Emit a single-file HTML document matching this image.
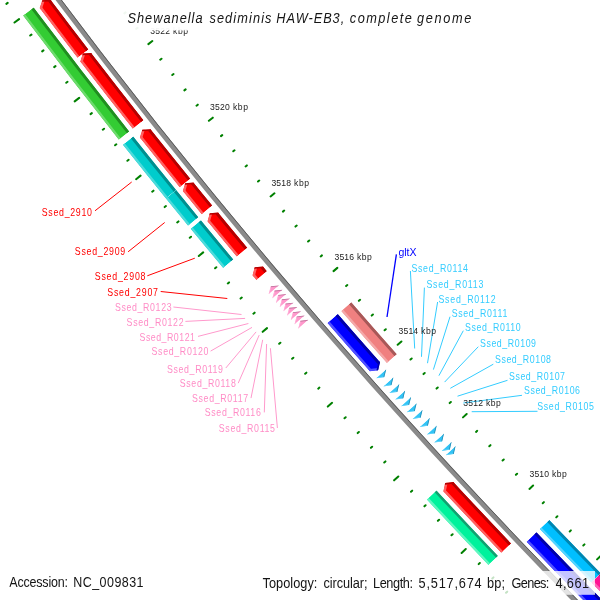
<!DOCTYPE html>
<html><head><meta charset="utf-8"><style>html,body{margin:0;padding:0;background:#fff;width:600px;height:600px;overflow:hidden}svg{display:block} text{will-change:transform}</style></head>
<body><svg width="600" height="600" viewBox="0 0 600 600">
<defs><clipPath id="c1"><path d="M 77.60 57.86 A 6130.80 6130.80 0 0 1 39.69 7.96 L 42.31 0.13 L 50.56 -0.21 A 6117.20 6117.20 0 0 0 88.39 49.58 Z"/></clipPath><clipPath id="c2"><path d="M 132.82 128.69 A 6130.80 6130.80 0 0 1 80.31 61.39 L 82.84 53.53 L 91.09 53.09 A 6117.20 6117.20 0 0 0 143.48 120.25 Z"/></clipPath><clipPath id="c3"><path d="M 179.72 187.22 A 6130.80 6130.80 0 0 1 139.87 137.58 L 142.28 129.69 L 150.52 129.13 A 6117.20 6117.20 0 0 0 190.28 178.65 Z"/></clipPath><clipPath id="c4"><path d="M 201.72 214.17 A 6130.80 6130.80 0 0 1 182.83 191.05 L 185.16 183.13 L 193.38 182.47 A 6117.20 6117.20 0 0 0 212.23 205.54 Z"/></clipPath><clipPath id="c5"><path d="M 236.82 256.54 A 6130.80 6130.80 0 0 1 207.52 221.22 L 209.79 213.28 L 218.01 212.58 A 6117.20 6117.20 0 0 0 247.25 247.81 Z"/></clipPath><clipPath id="c6"><path d="M 256.50 279.96 A 6130.80 6130.80 0 0 1 252.52 275.25 L 254.71 267.28 L 262.92 266.48 A 6117.20 6117.20 0 0 0 266.89 271.18 Z"/></clipPath><clipPath id="c7"><path d="M 501.30 552.82 A 6130.80 6130.80 0 0 1 443.36 491.14 L 445.16 483.09 L 453.33 481.90 A 6117.20 6117.20 0 0 0 511.15 543.44 Z"/></clipPath><clipPath id="c8"><path d="M 118.86 139.74 A 6148.60 6148.60 0 0 1 23.08 15.50 L 33.64 7.57 A 6135.40 6135.40 0 0 0 129.21 131.55 Z"/></clipPath><clipPath id="c9"><path d="M 165.90 198.44 A 6148.60 6148.60 0 0 1 122.85 144.78 L 133.19 136.58 A 6135.40 6135.40 0 0 0 176.15 190.12 Z"/></clipPath><clipPath id="c10"><path d="M 188.12 225.66 A 6148.60 6148.60 0 0 1 165.90 198.44 L 176.15 190.12 A 6135.40 6135.40 0 0 0 198.32 217.28 Z"/></clipPath><clipPath id="c11"><path d="M 223.16 267.96 A 6148.60 6148.60 0 0 1 190.63 228.71 L 200.83 220.33 A 6135.40 6135.40 0 0 0 233.29 259.49 Z"/></clipPath><clipPath id="c12"><path d="M 488.42 565.09 A 6148.60 6148.60 0 0 1 426.77 499.43 L 436.46 490.46 A 6135.40 6135.40 0 0 0 497.97 555.99 Z"/></clipPath><clipPath id="c13"><path d="M 268.62 294.27 L 270.77 286.29 L 278.99 285.46 Z"/></clipPath><clipPath id="c14"><path d="M 272.30 298.59 L 274.44 290.61 L 282.65 289.77 Z"/></clipPath><clipPath id="c15"><path d="M 275.98 302.91 L 278.12 294.93 L 286.33 294.08 Z"/></clipPath><clipPath id="c16"><path d="M 279.66 307.22 L 281.79 299.24 L 290.00 298.39 Z"/></clipPath><clipPath id="c17"><path d="M 283.35 311.54 L 285.47 303.55 L 293.68 302.69 Z"/></clipPath><clipPath id="c18"><path d="M 287.05 315.84 L 289.16 307.86 L 297.37 306.99 Z"/></clipPath><clipPath id="c19"><path d="M 290.74 320.15 L 292.85 312.16 L 301.06 311.28 Z"/></clipPath><clipPath id="c20"><path d="M 294.44 324.45 L 296.54 316.46 L 304.75 315.58 Z"/></clipPath><clipPath id="c21"><path d="M 298.15 328.75 L 300.24 320.76 L 308.45 319.87 Z"/></clipPath><clipPath id="c22"><path d="M 369.90 371.33 A 6104.80 6104.80 0 0 1 327.48 322.92 L 337.75 314.01 A 6091.20 6091.20 0 0 0 380.08 362.31 L 378.08 370.31 Z"/></clipPath><clipPath id="c23"><path d="M 604.02 621.22 A 6104.80 6104.80 0 0 1 526.57 541.64 L 536.41 532.24 A 6091.20 6091.20 0 0 0 613.68 611.65 Z"/></clipPath><clipPath id="c24"><path d="M 386.93 363.11 A 6086.60 6086.60 0 0 1 341.23 310.99 L 351.20 302.35 A 6073.40 6073.40 0 0 0 396.81 354.35 Z"/></clipPath><clipPath id="c25"><path d="M 591.33 582.41 A 6086.60 6086.60 0 0 1 539.73 529.06 L 549.27 519.94 A 6073.40 6073.40 0 0 0 600.76 573.17 Z"/></clipPath><clipPath id="c26"><path d="M 616.94 608.41 A 6086.60 6086.60 0 0 1 591.33 582.41 L 600.76 573.17 A 6073.40 6073.40 0 0 0 626.32 599.12 Z"/></clipPath><clipPath id="c27"><path d="M 376.09 378.31 L 384.27 377.28 L 386.26 369.28 Z"/></clipPath><clipPath id="c28"><path d="M 383.28 386.39 L 391.46 385.34 L 393.43 377.34 Z"/></clipPath><clipPath id="c29"><path d="M 389.17 392.99 L 397.35 391.93 L 399.31 383.92 Z"/></clipPath><clipPath id="c30"><path d="M 395.07 399.58 L 403.24 398.51 L 405.19 390.50 Z"/></clipPath><clipPath id="c31"><path d="M 400.98 406.16 L 409.15 405.07 L 411.09 397.06 Z"/></clipPath><clipPath id="c32"><path d="M 406.57 412.36 L 414.74 411.27 L 416.67 403.25 Z"/></clipPath><clipPath id="c33"><path d="M 412.49 418.93 L 420.67 417.82 L 422.58 409.80 Z"/></clipPath><clipPath id="c34"><path d="M 419.75 426.94 L 427.92 425.82 L 429.82 417.80 Z"/></clipPath><clipPath id="c35"><path d="M 426.69 434.57 L 434.86 433.44 L 436.75 425.42 Z"/></clipPath><clipPath id="c36"><path d="M 433.98 442.56 L 442.14 441.41 L 444.02 433.38 Z"/></clipPath><clipPath id="c37"><path d="M 441.61 450.89 L 449.77 449.73 L 451.63 441.70 Z"/></clipPath><clipPath id="c38"><path d="M 445.60 455.24 L 453.76 454.07 L 455.61 446.03 Z"/></clipPath></defs>
<rect width="600" height="600" fill="#ffffff"/>
<path d="M -117.82 -246.98 A 6110.80 6110.80 0 0 0 848.86 863.04" fill="none" stroke="#8a8a8a" stroke-width="5.0"/>
<path d="M -116.16 -248.10 A 6108.80 6108.80 0 0 0 850.20 861.55" fill="none" stroke="#5a5a5a" stroke-width="1.0"/>
<g clip-path="url(#c1)"><path d="M 77.60 57.86 A 6130.80 6130.80 0 0 1 39.69 7.96 L 42.31 0.13 L 50.56 -0.21 A 6117.20 6117.20 0 0 0 88.39 49.58 Z" fill="#ff0000"/><path d="M 77.60 57.86 A 6130.80 6130.80 0 0 1 39.69 7.96" fill="none" stroke="#ff6262" stroke-width="4.8"/><path d="M 50.56 -0.21 A 6117.20 6117.20 0 0 0 88.39 49.58" fill="none" stroke="#b40000" stroke-width="5.8"/><path d="M 39.69 7.96 L 42.31 0.13" fill="none" stroke="#ff6262" stroke-width="4.8" stroke-linecap="round"/><path d="M 42.31 0.13 L 50.56 -0.21" fill="none" stroke="#b40000" stroke-width="3.2" stroke-linecap="round"/></g>
<g clip-path="url(#c2)"><path d="M 132.82 128.69 A 6130.80 6130.80 0 0 1 80.31 61.39 L 82.84 53.53 L 91.09 53.09 A 6117.20 6117.20 0 0 0 143.48 120.25 Z" fill="#ff0000"/><path d="M 132.82 128.69 A 6130.80 6130.80 0 0 1 80.31 61.39" fill="none" stroke="#ff6262" stroke-width="4.8"/><path d="M 91.09 53.09 A 6117.20 6117.20 0 0 0 143.48 120.25" fill="none" stroke="#b40000" stroke-width="5.8"/><path d="M 80.31 61.39 L 82.84 53.53" fill="none" stroke="#ff6262" stroke-width="4.8" stroke-linecap="round"/><path d="M 82.84 53.53 L 91.09 53.09" fill="none" stroke="#b40000" stroke-width="3.2" stroke-linecap="round"/></g>
<g clip-path="url(#c3)"><path d="M 179.72 187.22 A 6130.80 6130.80 0 0 1 139.87 137.58 L 142.28 129.69 L 150.52 129.13 A 6117.20 6117.20 0 0 0 190.28 178.65 Z" fill="#ff0000"/><path d="M 179.72 187.22 A 6130.80 6130.80 0 0 1 139.87 137.58" fill="none" stroke="#ff6262" stroke-width="4.8"/><path d="M 150.52 129.13 A 6117.20 6117.20 0 0 0 190.28 178.65" fill="none" stroke="#b40000" stroke-width="5.8"/><path d="M 139.87 137.58 L 142.28 129.69" fill="none" stroke="#ff6262" stroke-width="4.8" stroke-linecap="round"/><path d="M 142.28 129.69 L 150.52 129.13" fill="none" stroke="#b40000" stroke-width="3.2" stroke-linecap="round"/></g>
<g clip-path="url(#c4)"><path d="M 201.72 214.17 A 6130.80 6130.80 0 0 1 182.83 191.05 L 185.16 183.13 L 193.38 182.47 A 6117.20 6117.20 0 0 0 212.23 205.54 Z" fill="#ff0000"/><path d="M 201.72 214.17 A 6130.80 6130.80 0 0 1 182.83 191.05" fill="none" stroke="#ff6262" stroke-width="4.8"/><path d="M 193.38 182.47 A 6117.20 6117.20 0 0 0 212.23 205.54" fill="none" stroke="#b40000" stroke-width="5.8"/><path d="M 182.83 191.05 L 185.16 183.13" fill="none" stroke="#ff6262" stroke-width="4.8" stroke-linecap="round"/><path d="M 185.16 183.13 L 193.38 182.47" fill="none" stroke="#b40000" stroke-width="3.2" stroke-linecap="round"/></g>
<g clip-path="url(#c5)"><path d="M 236.82 256.54 A 6130.80 6130.80 0 0 1 207.52 221.22 L 209.79 213.28 L 218.01 212.58 A 6117.20 6117.20 0 0 0 247.25 247.81 Z" fill="#ff0000"/><path d="M 236.82 256.54 A 6130.80 6130.80 0 0 1 207.52 221.22" fill="none" stroke="#ff6262" stroke-width="4.8"/><path d="M 218.01 212.58 A 6117.20 6117.20 0 0 0 247.25 247.81" fill="none" stroke="#b40000" stroke-width="5.8"/><path d="M 207.52 221.22 L 209.79 213.28" fill="none" stroke="#ff6262" stroke-width="4.8" stroke-linecap="round"/><path d="M 209.79 213.28 L 218.01 212.58" fill="none" stroke="#b40000" stroke-width="3.2" stroke-linecap="round"/></g>
<g clip-path="url(#c6)"><path d="M 256.50 279.96 A 6130.80 6130.80 0 0 1 252.52 275.25 L 254.71 267.28 L 262.92 266.48 A 6117.20 6117.20 0 0 0 266.89 271.18 Z" fill="#ff0000"/><path d="M 256.50 279.96 A 6130.80 6130.80 0 0 1 252.52 275.25" fill="none" stroke="#ff6262" stroke-width="4.8"/><path d="M 262.92 266.48 A 6117.20 6117.20 0 0 0 266.89 271.18" fill="none" stroke="#b40000" stroke-width="5.8"/><path d="M 252.52 275.25 L 254.71 267.28" fill="none" stroke="#ff6262" stroke-width="4.8" stroke-linecap="round"/><path d="M 254.71 267.28 L 262.92 266.48" fill="none" stroke="#b40000" stroke-width="3.2" stroke-linecap="round"/></g>
<g clip-path="url(#c7)"><path d="M 501.30 552.82 A 6130.80 6130.80 0 0 1 443.36 491.14 L 445.16 483.09 L 453.33 481.90 A 6117.20 6117.20 0 0 0 511.15 543.44 Z" fill="#ff0000"/><path d="M 501.30 552.82 A 6130.80 6130.80 0 0 1 443.36 491.14" fill="none" stroke="#ff6262" stroke-width="4.8"/><path d="M 453.33 481.90 A 6117.20 6117.20 0 0 0 511.15 543.44" fill="none" stroke="#b40000" stroke-width="5.8"/><path d="M 443.36 491.14 L 445.16 483.09" fill="none" stroke="#ff6262" stroke-width="4.8" stroke-linecap="round"/><path d="M 445.16 483.09 L 453.33 481.90" fill="none" stroke="#b40000" stroke-width="3.2" stroke-linecap="round"/></g>
<g clip-path="url(#c8)"><path d="M 118.86 139.74 A 6148.60 6148.60 0 0 1 23.08 15.50 L 33.64 7.57 A 6135.40 6135.40 0 0 0 129.21 131.55 Z" fill="#33cc33"/><path d="M 118.86 139.74 A 6148.60 6148.60 0 0 1 23.08 15.50" fill="none" stroke="#6ddb6d" stroke-width="4.8"/><path d="M 33.64 7.57 A 6135.40 6135.40 0 0 0 129.21 131.55" fill="none" stroke="#208f20" stroke-width="5.8"/></g>
<g clip-path="url(#c9)"><path d="M 165.90 198.44 A 6148.60 6148.60 0 0 1 122.85 144.78 L 133.19 136.58 A 6135.40 6135.40 0 0 0 176.15 190.12 Z" fill="#00cccc"/><path d="M 165.90 198.44 A 6148.60 6148.60 0 0 1 122.85 144.78" fill="none" stroke="#4ddbdb" stroke-width="4.8"/><path d="M 133.19 136.58 A 6135.40 6135.40 0 0 0 176.15 190.12" fill="none" stroke="#008f8f" stroke-width="5.8"/></g>
<g clip-path="url(#c10)"><path d="M 188.12 225.66 A 6148.60 6148.60 0 0 1 165.90 198.44 L 176.15 190.12 A 6135.40 6135.40 0 0 0 198.32 217.28 Z" fill="#00cccc"/><path d="M 188.12 225.66 A 6148.60 6148.60 0 0 1 165.90 198.44" fill="none" stroke="#4ddbdb" stroke-width="4.8"/><path d="M 176.15 190.12 A 6135.40 6135.40 0 0 0 198.32 217.28" fill="none" stroke="#008f8f" stroke-width="5.8"/></g>
<g clip-path="url(#c11)"><path d="M 223.16 267.96 A 6148.60 6148.60 0 0 1 190.63 228.71 L 200.83 220.33 A 6135.40 6135.40 0 0 0 233.29 259.49 Z" fill="#00cccc"/><path d="M 223.16 267.96 A 6148.60 6148.60 0 0 1 190.63 228.71" fill="none" stroke="#4ddbdb" stroke-width="4.8"/><path d="M 200.83 220.33 A 6135.40 6135.40 0 0 0 233.29 259.49" fill="none" stroke="#008f8f" stroke-width="5.8"/></g>
<g clip-path="url(#c12)"><path d="M 488.42 565.09 A 6148.60 6148.60 0 0 1 426.77 499.43 L 436.46 490.46 A 6135.40 6135.40 0 0 0 497.97 555.99 Z" fill="#00f29c"/><path d="M 488.42 565.09 A 6148.60 6148.60 0 0 1 426.77 499.43" fill="none" stroke="#60f6c0" stroke-width="4.8"/><path d="M 436.46 490.46 A 6135.40 6135.40 0 0 0 497.97 555.99" fill="none" stroke="#13a070" stroke-width="5.0"/></g>
<g clip-path="url(#c13)"><path d="M 268.62 294.27 L 270.77 286.29 L 278.99 285.46 Z" fill="#ff99cc"/><path d="M 268.62 294.27 L 270.77 286.29" fill="none" stroke="#ffb0d8" stroke-width="1.6"/><path d="M 270.77 286.29 L 278.99 285.46" fill="none" stroke="#c47aa2" stroke-width="1.8"/></g>
<g clip-path="url(#c14)"><path d="M 272.30 298.59 L 274.44 290.61 L 282.65 289.77 Z" fill="#ff99cc"/><path d="M 272.30 298.59 L 274.44 290.61" fill="none" stroke="#ffb0d8" stroke-width="1.6"/><path d="M 274.44 290.61 L 282.65 289.77" fill="none" stroke="#c47aa2" stroke-width="1.8"/></g>
<g clip-path="url(#c15)"><path d="M 275.98 302.91 L 278.12 294.93 L 286.33 294.08 Z" fill="#ff99cc"/><path d="M 275.98 302.91 L 278.12 294.93" fill="none" stroke="#ffb0d8" stroke-width="1.6"/><path d="M 278.12 294.93 L 286.33 294.08" fill="none" stroke="#c47aa2" stroke-width="1.8"/></g>
<g clip-path="url(#c16)"><path d="M 279.66 307.22 L 281.79 299.24 L 290.00 298.39 Z" fill="#ff99cc"/><path d="M 279.66 307.22 L 281.79 299.24" fill="none" stroke="#ffb0d8" stroke-width="1.6"/><path d="M 281.79 299.24 L 290.00 298.39" fill="none" stroke="#c47aa2" stroke-width="1.8"/></g>
<g clip-path="url(#c17)"><path d="M 283.35 311.54 L 285.47 303.55 L 293.68 302.69 Z" fill="#ff99cc"/><path d="M 283.35 311.54 L 285.47 303.55" fill="none" stroke="#ffb0d8" stroke-width="1.6"/><path d="M 285.47 303.55 L 293.68 302.69" fill="none" stroke="#c47aa2" stroke-width="1.8"/></g>
<g clip-path="url(#c18)"><path d="M 287.05 315.84 L 289.16 307.86 L 297.37 306.99 Z" fill="#ff99cc"/><path d="M 287.05 315.84 L 289.16 307.86" fill="none" stroke="#ffb0d8" stroke-width="1.6"/><path d="M 289.16 307.86 L 297.37 306.99" fill="none" stroke="#c47aa2" stroke-width="1.8"/></g>
<g clip-path="url(#c19)"><path d="M 290.74 320.15 L 292.85 312.16 L 301.06 311.28 Z" fill="#ff99cc"/><path d="M 290.74 320.15 L 292.85 312.16" fill="none" stroke="#ffb0d8" stroke-width="1.6"/><path d="M 292.85 312.16 L 301.06 311.28" fill="none" stroke="#c47aa2" stroke-width="1.8"/></g>
<g clip-path="url(#c20)"><path d="M 294.44 324.45 L 296.54 316.46 L 304.75 315.58 Z" fill="#ff99cc"/><path d="M 294.44 324.45 L 296.54 316.46" fill="none" stroke="#ffb0d8" stroke-width="1.6"/><path d="M 296.54 316.46 L 304.75 315.58" fill="none" stroke="#c47aa2" stroke-width="1.8"/></g>
<g clip-path="url(#c21)"><path d="M 298.15 328.75 L 300.24 320.76 L 308.45 319.87 Z" fill="#ff99cc"/><path d="M 298.15 328.75 L 300.24 320.76" fill="none" stroke="#ffb0d8" stroke-width="1.6"/><path d="M 300.24 320.76 L 308.45 319.87" fill="none" stroke="#c47aa2" stroke-width="1.8"/></g>
<g clip-path="url(#c22)"><path d="M 369.90 371.33 A 6104.80 6104.80 0 0 1 327.48 322.92 L 337.75 314.01 A 6091.20 6091.20 0 0 0 380.08 362.31 L 378.08 370.31 Z" fill="#0000ff"/><path d="M 369.90 371.33 A 6104.80 6104.80 0 0 1 327.48 322.92" fill="none" stroke="#5050ff" stroke-width="4.8"/><path d="M 337.75 314.01 A 6091.20 6091.20 0 0 0 380.08 362.31" fill="none" stroke="#0000a8" stroke-width="5.8"/><path d="M 378.08 370.31 L 369.90 371.33" fill="none" stroke="#5050ff" stroke-width="4.8" stroke-linecap="round"/><path d="M 380.08 362.31 L 378.08 370.31" fill="none" stroke="#0000a8" stroke-width="3.2" stroke-linecap="round"/></g>
<g clip-path="url(#c23)"><path d="M 604.02 621.22 A 6104.80 6104.80 0 0 1 526.57 541.64 L 536.41 532.24 A 6091.20 6091.20 0 0 0 613.68 611.65 Z" fill="#0000ff"/><path d="M 604.02 621.22 A 6104.80 6104.80 0 0 1 526.57 541.64" fill="none" stroke="#5050ff" stroke-width="4.8"/><path d="M 536.41 532.24 A 6091.20 6091.20 0 0 0 613.68 611.65" fill="none" stroke="#0000a8" stroke-width="5.8"/></g>
<g clip-path="url(#c24)"><path d="M 386.93 363.11 A 6086.60 6086.60 0 0 1 341.23 310.99 L 351.20 302.35 A 6073.40 6073.40 0 0 0 396.81 354.35 Z" fill="#f08080"/><path d="M 386.93 363.11 A 6086.60 6086.60 0 0 1 341.23 310.99" fill="none" stroke="#f4a8a8" stroke-width="4.8"/><path d="M 351.20 302.35 A 6073.40 6073.40 0 0 0 396.81 354.35" fill="none" stroke="#a85858" stroke-width="5.8"/></g>
<g clip-path="url(#c25)"><path d="M 591.33 582.41 A 6086.60 6086.60 0 0 1 539.73 529.06 L 549.27 519.94 A 6073.40 6073.40 0 0 0 600.76 573.17 Z" fill="#00bfff"/><path d="M 591.33 582.41 A 6086.60 6086.60 0 0 1 539.73 529.06" fill="none" stroke="#55d4ff" stroke-width="4.8"/><path d="M 549.27 519.94 A 6073.40 6073.40 0 0 0 600.76 573.17" fill="none" stroke="#0086b0" stroke-width="5.8"/></g>
<g clip-path="url(#c26)"><path d="M 616.94 608.41 A 6086.60 6086.60 0 0 1 591.33 582.41 L 600.76 573.17 A 6073.40 6073.40 0 0 0 626.32 599.12 Z" fill="#ff1493"/><path d="M 616.94 608.41 A 6086.60 6086.60 0 0 1 591.33 582.41" fill="none" stroke="#ff66b5" stroke-width="4.8"/><path d="M 600.76 573.17 A 6073.40 6073.40 0 0 0 626.32 599.12" fill="none" stroke="#b30e67" stroke-width="5.8"/></g>
<g clip-path="url(#c27)"><path d="M 376.09 378.31 L 384.27 377.28 L 386.26 369.28 Z" fill="#33c4f6"/><path d="M 376.09 378.31 L 384.27 377.28" fill="none" stroke="#66d4fa" stroke-width="1.6"/><path d="M 384.27 377.28 L 386.26 369.28" fill="none" stroke="#2a93bb" stroke-width="1.8"/></g>
<g clip-path="url(#c28)"><path d="M 383.28 386.39 L 391.46 385.34 L 393.43 377.34 Z" fill="#33c4f6"/><path d="M 383.28 386.39 L 391.46 385.34" fill="none" stroke="#66d4fa" stroke-width="1.6"/><path d="M 391.46 385.34 L 393.43 377.34" fill="none" stroke="#2a93bb" stroke-width="1.8"/></g>
<g clip-path="url(#c29)"><path d="M 389.17 392.99 L 397.35 391.93 L 399.31 383.92 Z" fill="#33c4f6"/><path d="M 389.17 392.99 L 397.35 391.93" fill="none" stroke="#66d4fa" stroke-width="1.6"/><path d="M 397.35 391.93 L 399.31 383.92" fill="none" stroke="#2a93bb" stroke-width="1.8"/></g>
<g clip-path="url(#c30)"><path d="M 395.07 399.58 L 403.24 398.51 L 405.19 390.50 Z" fill="#33c4f6"/><path d="M 395.07 399.58 L 403.24 398.51" fill="none" stroke="#66d4fa" stroke-width="1.6"/><path d="M 403.24 398.51 L 405.19 390.50" fill="none" stroke="#2a93bb" stroke-width="1.8"/></g>
<g clip-path="url(#c31)"><path d="M 400.98 406.16 L 409.15 405.07 L 411.09 397.06 Z" fill="#33c4f6"/><path d="M 400.98 406.16 L 409.15 405.07" fill="none" stroke="#66d4fa" stroke-width="1.6"/><path d="M 409.15 405.07 L 411.09 397.06" fill="none" stroke="#2a93bb" stroke-width="1.8"/></g>
<g clip-path="url(#c32)"><path d="M 406.57 412.36 L 414.74 411.27 L 416.67 403.25 Z" fill="#33c4f6"/><path d="M 406.57 412.36 L 414.74 411.27" fill="none" stroke="#66d4fa" stroke-width="1.6"/><path d="M 414.74 411.27 L 416.67 403.25" fill="none" stroke="#2a93bb" stroke-width="1.8"/></g>
<g clip-path="url(#c33)"><path d="M 412.49 418.93 L 420.67 417.82 L 422.58 409.80 Z" fill="#33c4f6"/><path d="M 412.49 418.93 L 420.67 417.82" fill="none" stroke="#66d4fa" stroke-width="1.6"/><path d="M 420.67 417.82 L 422.58 409.80" fill="none" stroke="#2a93bb" stroke-width="1.8"/></g>
<g clip-path="url(#c34)"><path d="M 419.75 426.94 L 427.92 425.82 L 429.82 417.80 Z" fill="#33c4f6"/><path d="M 419.75 426.94 L 427.92 425.82" fill="none" stroke="#66d4fa" stroke-width="1.6"/><path d="M 427.92 425.82 L 429.82 417.80" fill="none" stroke="#2a93bb" stroke-width="1.8"/></g>
<g clip-path="url(#c35)"><path d="M 426.69 434.57 L 434.86 433.44 L 436.75 425.42 Z" fill="#33c4f6"/><path d="M 426.69 434.57 L 434.86 433.44" fill="none" stroke="#66d4fa" stroke-width="1.6"/><path d="M 434.86 433.44 L 436.75 425.42" fill="none" stroke="#2a93bb" stroke-width="1.8"/></g>
<g clip-path="url(#c36)"><path d="M 433.98 442.56 L 442.14 441.41 L 444.02 433.38 Z" fill="#33c4f6"/><path d="M 433.98 442.56 L 442.14 441.41" fill="none" stroke="#66d4fa" stroke-width="1.6"/><path d="M 442.14 441.41 L 444.02 433.38" fill="none" stroke="#2a93bb" stroke-width="1.8"/></g>
<g clip-path="url(#c37)"><path d="M 441.61 450.89 L 449.77 449.73 L 451.63 441.70 Z" fill="#33c4f6"/><path d="M 441.61 450.89 L 449.77 449.73" fill="none" stroke="#66d4fa" stroke-width="1.6"/><path d="M 449.77 449.73 L 451.63 441.70" fill="none" stroke="#2a93bb" stroke-width="1.8"/></g>
<g clip-path="url(#c38)"><path d="M 445.60 455.24 L 453.76 454.07 L 455.61 446.03 Z" fill="#33c4f6"/><path d="M 445.60 455.24 L 453.76 454.07" fill="none" stroke="#66d4fa" stroke-width="1.6"/><path d="M 453.76 454.07 L 455.61 446.03" fill="none" stroke="#2a93bb" stroke-width="1.8"/></g>
<path d="M 1176.94 1082.06 L 1180.04 1078.14 M 1122.60 1150.77 L 1119.06 1155.24 M 1161.52 1070.08 L 1162.52 1068.83 M 1107.45 1137.99 L 1106.46 1139.24 M 1146.26 1057.89 L 1147.26 1056.64 M 1091.98 1125.62 L 1090.97 1126.87 M 1131.04 1045.65 L 1132.04 1044.41 M 1076.54 1113.21 L 1075.53 1114.45 M 1115.86 1033.36 L 1116.87 1032.12 M 1061.14 1100.74 L 1060.13 1101.99 M 1100.84 1020.87 L 1104.01 1017.00 M 1045.40 1088.70 L 1041.79 1093.11 M 1085.61 1008.64 L 1086.63 1007.41 M 1030.46 1075.67 L 1029.45 1076.90 M 1070.55 996.21 L 1071.57 994.97 M 1015.18 1063.06 L 1014.16 1064.29 M 1055.53 983.72 L 1056.55 982.50 M 999.95 1050.39 L 998.92 1051.62 M 1040.55 971.19 L 1041.58 969.97 M 984.75 1037.68 L 983.72 1038.91 M 1025.74 958.46 L 1028.96 954.64 M 969.21 1025.38 L 965.53 1029.74 M 1010.71 945.99 L 1011.74 944.77 M 954.48 1012.12 L 953.45 1013.34 M 995.85 933.31 L 996.89 932.10 M 939.41 999.26 L 938.37 1000.48 M 981.03 920.59 L 982.07 919.38 M 924.38 986.36 L 923.34 987.57 M 966.25 907.82 L 967.30 906.61 M 909.39 973.40 L 908.34 974.61 M 951.64 894.85 L 954.93 891.08 M 894.05 960.85 L 890.30 965.15 M 936.82 882.14 L 937.87 880.93 M 879.54 947.35 L 878.48 948.56 M 922.16 869.22 L 923.22 868.03 M 864.67 934.26 L 863.61 935.45 M 907.55 856.26 L 908.61 855.07 M 849.85 921.11 L 848.79 922.31 M 892.98 843.26 L 894.05 842.07 M 835.07 907.92 L 834.01 909.11 M 878.59 830.06 L 881.93 826.34 M 819.94 895.12 L 816.12 899.36 M 863.97 817.10 L 865.04 815.92 M 805.64 881.39 L 804.57 882.58 M 849.52 803.96 L 850.60 802.78 M 790.99 868.06 L 789.91 869.24 M 835.12 790.76 L 836.20 789.59 M 776.38 854.67 L 775.30 855.85 M 820.76 777.52 L 821.85 776.35 M 761.82 841.24 L 760.73 842.42 M 806.58 764.09 L 809.99 760.43 M 746.89 828.21 L 743.01 832.38 M 792.17 750.91 L 793.26 749.74 M 732.82 814.25 L 731.73 815.41 M 777.94 737.53 L 779.04 736.37 M 718.39 800.68 L 717.29 801.84 M 763.75 724.11 L 764.85 722.95 M 704.00 787.06 L 702.89 788.22 M 749.61 710.64 L 750.71 709.48 M 689.65 773.40 L 688.54 774.56 M 735.65 696.98 L 739.11 693.38 M 674.93 760.13 L 670.98 764.23 M 721.45 683.56 L 722.56 682.41 M 661.09 745.94 L 659.98 747.09 M 707.44 669.96 L 708.55 668.81 M 646.87 732.14 L 645.76 733.29 M 693.47 656.31 L 694.59 655.17 M 632.70 718.29 L 631.58 719.44 M 679.54 642.61 L 680.67 641.48 M 618.58 704.40 L 617.46 705.54 M 665.80 628.73 L 669.32 625.18 M 604.08 690.89 L 600.06 694.94 M 651.82 615.09 L 652.95 613.96 M 590.46 676.49 L 589.33 677.62 M 638.03 601.26 L 639.16 600.13 M 576.47 662.46 L 575.34 663.59 M 624.28 587.39 L 625.42 586.26 M 562.53 648.39 L 561.39 649.51 M 610.58 573.47 L 611.72 572.35 M 548.63 634.27 L 547.49 635.39 M 597.06 559.37 L 600.64 555.88 M 534.35 620.53 L 530.27 624.51 M 583.31 545.51 L 584.46 544.39 M 520.97 605.91 L 519.82 607.02 M 569.74 531.46 L 570.89 530.35 M 507.21 591.66 L 506.05 592.77 M 556.22 517.36 L 557.37 516.26 M 493.49 577.36 L 492.33 578.47 M 542.74 503.23 L 543.90 502.13 M 479.82 563.02 L 478.66 564.13 M 529.45 488.91 L 533.09 485.48 M 465.76 549.05 L 461.61 552.97 M 515.92 474.83 L 517.09 473.73 M 452.62 534.22 L 451.45 535.31 M 502.58 460.56 L 503.75 459.47 M 439.09 519.75 L 437.92 520.84 M 489.29 446.25 L 490.46 445.17 M 425.60 505.23 L 424.43 506.32 M 476.04 431.90 L 477.21 430.82 M 412.16 490.68 L 410.99 491.76 M 462.98 417.37 L 466.67 414.00 M 398.33 476.48 L 394.12 480.33 M 449.68 403.07 L 450.86 402.00 M 385.43 461.43 L 384.24 462.51 M 436.57 388.59 L 437.76 387.52 M 372.13 446.75 L 370.94 447.82 M 423.51 374.07 L 424.70 373.00 M 358.88 432.02 L 357.69 433.09 M 410.49 359.51 L 411.69 358.45 M 345.68 417.25 L 344.49 418.31 M 397.67 344.77 L 401.42 341.46 M 332.08 402.83 L 327.81 406.61 M 384.60 330.26 L 385.80 329.20 M 319.42 387.58 L 318.22 388.64 M 371.73 315.57 L 372.93 314.52 M 306.36 372.68 L 305.16 373.74 M 358.90 300.84 L 360.11 299.79 M 293.35 357.74 L 292.14 358.79 M 346.12 286.07 L 347.33 285.03 M 280.39 342.76 L 279.18 343.81 M 333.54 271.13 L 337.34 267.88 M 267.02 328.13 L 262.69 331.84 M 320.71 256.41 L 321.92 255.37 M 254.61 312.67 L 253.39 313.71 M 308.07 241.52 L 309.29 240.48 M 241.79 297.57 L 240.57 298.60 M 295.48 226.58 L 296.71 225.56 M 229.02 282.42 L 227.80 283.45 M 282.94 211.61 L 284.17 210.59 M 216.31 267.23 L 215.08 268.26 M 270.60 196.47 L 274.45 193.28 M 203.17 252.39 L 198.79 256.03 M 258.01 181.54 L 259.24 180.52 M 191.01 236.73 L 189.78 237.75 M 245.61 166.45 L 246.85 165.43 M 178.44 221.42 L 177.20 222.44 M 233.27 151.31 L 234.51 150.30 M 165.92 206.07 L 164.68 207.08 M 220.97 136.14 L 222.21 135.13 M 153.45 190.68 L 152.20 191.69 M 208.88 120.80 L 212.77 117.67 M 140.55 175.63 L 136.11 179.19 M 196.52 105.67 L 197.77 104.68 M 128.65 159.78 L 127.40 160.78 M 184.37 90.38 L 185.62 89.39 M 116.32 144.27 L 115.07 145.26 M 172.27 75.05 L 173.53 74.06 M 104.05 128.72 L 102.79 129.71 M 160.22 59.68 L 161.48 58.70 M 91.83 113.13 L 90.56 114.12 M 148.37 44.15 L 152.32 41.08 M 79.18 97.87 L 74.68 101.36 M 136.26 28.83 L 137.53 27.85 M 67.53 81.83 L 66.26 82.81 M 124.36 13.34 L 125.63 12.37 M 55.46 66.13 L 54.19 67.10 M 112.51 -2.18 L 113.78 -3.15 M 43.43 50.38 L 42.16 51.35 M 100.70 -17.75 L 101.98 -18.71 M 31.46 34.60 L 30.19 35.56 M 89.11 -33.46 L 93.11 -36.47 M 19.06 19.13 L 14.50 22.56 M 77.25 -48.98 L 78.53 -49.94 M 7.67 2.91 L 6.39 3.87 M 65.60 -64.66 L 66.88 -65.61 M -4.15 -12.99 L -5.43 -12.03 M 54.00 -80.37 L 55.29 -81.32 M -15.91 -28.92 L -17.20 -27.98 M 42.45 -96.12 L 43.74 -97.06 M -27.63 -44.90 L -28.92 -43.96 M 31.11 -112.02 L 35.16 -114.96 M -39.78 -60.56 L -44.39 -57.21 M 19.50 -127.73 L 20.80 -128.67 M -50.91 -76.96 L -52.20 -76.03 M 8.10 -143.59 L 9.40 -144.52 M -62.47 -93.05 L -63.77 -92.12 M -3.25 -159.49 L -1.94 -160.42 M -73.98 -109.17 L -75.28 -108.25 M -14.54 -175.42 L -13.24 -176.34 M -85.43 -125.34 L -86.74 -124.41 M -25.62 -191.51 L -21.53 -194.38 M -97.33 -141.19 L -102.00 -137.92 M -36.98 -207.40 L -35.67 -208.31 M -108.19 -157.77 L -109.51 -156.86 M -48.12 -223.44 L -46.80 -224.35 M -119.49 -174.04 L -120.81 -173.13 M -59.21 -239.52 L -57.89 -240.42 M -130.74 -190.35 L -132.06 -189.44 M -70.25 -255.63 L -68.93 -256.53 M -141.94 -206.69 L -143.26 -205.79 M -81.07 -271.89 L -76.93 -274.70 M -153.58 -222.74 L -158.29 -219.54 M -92.17 -287.96 L -90.84 -288.86 M -164.17 -239.49 L -165.50 -238.60 M -103.05 -304.18 L -101.72 -305.07 M -175.21 -255.94 L -176.54 -255.05 M -113.88 -320.44 L -112.54 -321.32 M -186.19 -272.43 L -187.52 -271.54 M -124.65 -336.73 L -123.32 -337.61 M -197.12 -288.95 L -198.46 -288.07" stroke="#008000" stroke-width="2" stroke-linecap="round" fill="none"/>
<text transform="translate(41.7,215.8) scale(0.84,1)" x="0" y="0" textLength="59.88" lengthAdjust="spacing" font-size="10.5" fill="#ff0000" font-family="Liberation Sans, sans-serif" >Ssed_2910</text>
<line x1="95" y1="210.8" x2="131.7" y2="182" stroke="#ff0000" stroke-width="1.0"/>
<text transform="translate(74.8,255) scale(0.84,1)" x="0" y="0" textLength="60.00" lengthAdjust="spacing" font-size="10.5" fill="#ff0000" font-family="Liberation Sans, sans-serif" >Ssed_2909</text>
<line x1="128.1" y1="251.8" x2="164.7" y2="222.5" stroke="#ff0000" stroke-width="1.0"/>
<text transform="translate(94.8,279.8) scale(0.84,1)" x="0" y="0" textLength="60.36" lengthAdjust="spacing" font-size="10.5" fill="#ff0000" font-family="Liberation Sans, sans-serif" >Ssed_2908</text>
<line x1="147.3" y1="275.8" x2="194.8" y2="258.2" stroke="#ff0000" stroke-width="1.0"/>
<text transform="translate(107.3,295.8) scale(0.84,1)" x="0" y="0" textLength="60.36" lengthAdjust="spacing" font-size="10.5" fill="#ff0000" font-family="Liberation Sans, sans-serif" >Ssed_2907</text>
<line x1="160.7" y1="291.5" x2="227.3" y2="298.5" stroke="#ff0000" stroke-width="1.0"/>
<text transform="translate(114.9,310.6) scale(0.84,1)" x="0" y="0" textLength="67.50" lengthAdjust="spacing" font-size="10.5" fill="#ff8cc6" font-family="Liberation Sans, sans-serif" >Ssed_R0123</text>
<line x1="173.4" y1="307" x2="241.5" y2="314.5" stroke="#ff99cc" stroke-width="1.0"/>
<text transform="translate(126.6,325.6) scale(0.84,1)" x="0" y="0" textLength="67.86" lengthAdjust="spacing" font-size="10.5" fill="#ff8cc6" font-family="Liberation Sans, sans-serif" >Ssed_R0122</text>
<line x1="185.4" y1="321.4" x2="245.1" y2="318.4" stroke="#ff99cc" stroke-width="1.0"/>
<text transform="translate(139.5,340.6) scale(0.84,1)" x="0" y="0" textLength="66.07" lengthAdjust="spacing" font-size="10.5" fill="#ff8cc6" font-family="Liberation Sans, sans-serif" >Ssed_R0121</text>
<line x1="198" y1="336.4" x2="248.4" y2="323.5" stroke="#ff99cc" stroke-width="1.0"/>
<text transform="translate(151.5,355) scale(0.84,1)" x="0" y="0" textLength="67.86" lengthAdjust="spacing" font-size="10.5" fill="#ff8cc6" font-family="Liberation Sans, sans-serif" >Ssed_R0120</text>
<line x1="210.6" y1="351.1" x2="252" y2="327.4" stroke="#ff99cc" stroke-width="1.0"/>
<text transform="translate(167,372.6) scale(0.84,1)" x="0" y="0" textLength="66.67" lengthAdjust="spacing" font-size="10.5" fill="#ff8cc6" font-family="Liberation Sans, sans-serif" >Ssed_R0119</text>
<line x1="225.8" y1="368" x2="256.1" y2="331.9" stroke="#ff99cc" stroke-width="1.0"/>
<text transform="translate(179.8,387.2) scale(0.84,1)" x="0" y="0" textLength="66.67" lengthAdjust="spacing" font-size="10.5" fill="#ff8cc6" font-family="Liberation Sans, sans-serif" >Ssed_R0118</text>
<line x1="238.2" y1="383.2" x2="259.2" y2="335.1" stroke="#ff99cc" stroke-width="1.0"/>
<text transform="translate(192,402.3) scale(0.84,1)" x="0" y="0" textLength="66.90" lengthAdjust="spacing" font-size="10.5" fill="#ff8cc6" font-family="Liberation Sans, sans-serif" >Ssed_R0117</text>
<line x1="251" y1="398.1" x2="262.7" y2="339.8" stroke="#ff99cc" stroke-width="1.0"/>
<text transform="translate(204.8,416.3) scale(0.84,1)" x="0" y="0" textLength="66.67" lengthAdjust="spacing" font-size="10.5" fill="#ff8cc6" font-family="Liberation Sans, sans-serif" >Ssed_R0116</text>
<line x1="264.3" y1="412.4" x2="266.6" y2="344" stroke="#ff99cc" stroke-width="1.0"/>
<text transform="translate(218.8,432.2) scale(0.84,1)" x="0" y="0" textLength="66.90" lengthAdjust="spacing" font-size="10.5" fill="#ff8cc6" font-family="Liberation Sans, sans-serif" >Ssed_R0115</text>
<line x1="277.4" y1="428" x2="270.4" y2="348.2" stroke="#ff99cc" stroke-width="1.0"/>
<text transform="translate(411.4,272) scale(0.84,1)" x="0" y="0" textLength="67.38" lengthAdjust="spacing" font-size="10.5" fill="#33ccff" font-family="Liberation Sans, sans-serif" >Ssed_R0114</text>
<line x1="410.4" y1="271" x2="414.7" y2="348.5" stroke="#33ccff" stroke-width="1.0"/>
<text transform="translate(426.4,288) scale(0.84,1)" x="0" y="0" textLength="67.86" lengthAdjust="spacing" font-size="10.5" fill="#33ccff" font-family="Liberation Sans, sans-serif" >Ssed_R0113</text>
<line x1="424.4" y1="287.6" x2="421.5" y2="356.8" stroke="#33ccff" stroke-width="1.0"/>
<text transform="translate(438.4,302.6) scale(0.84,1)" x="0" y="0" textLength="68.10" lengthAdjust="spacing" font-size="10.5" fill="#33ccff" font-family="Liberation Sans, sans-serif" >Ssed_R0112</text>
<line x1="437.6" y1="302" x2="427.5" y2="363.2" stroke="#33ccff" stroke-width="1.0"/>
<text transform="translate(451.7,317.3) scale(0.84,1)" x="0" y="0" textLength="66.19" lengthAdjust="spacing" font-size="10.5" fill="#33ccff" font-family="Liberation Sans, sans-serif" >Ssed_R0111</text>
<line x1="450" y1="316.7" x2="433.4" y2="369.6" stroke="#33ccff" stroke-width="1.0"/>
<text transform="translate(465,331) scale(0.84,1)" x="0" y="0" textLength="66.31" lengthAdjust="spacing" font-size="10.5" fill="#33ccff" font-family="Liberation Sans, sans-serif" >Ssed_R0110</text>
<line x1="463.3" y1="330.7" x2="438.9" y2="375.7" stroke="#33ccff" stroke-width="1.0"/>
<text transform="translate(480,346.7) scale(0.84,1)" x="0" y="0" textLength="66.67" lengthAdjust="spacing" font-size="10.5" fill="#33ccff" font-family="Liberation Sans, sans-serif" >Ssed_R0109</text>
<line x1="478.3" y1="346.7" x2="444.6" y2="382.1" stroke="#33ccff" stroke-width="1.0"/>
<text transform="translate(495,363.3) scale(0.84,1)" x="0" y="0" textLength="66.67" lengthAdjust="spacing" font-size="10.5" fill="#33ccff" font-family="Liberation Sans, sans-serif" >Ssed_R0108</text>
<line x1="493.3" y1="364.2" x2="450.3" y2="388.3" stroke="#33ccff" stroke-width="1.0"/>
<text transform="translate(509,380) scale(0.84,1)" x="0" y="0" textLength="66.67" lengthAdjust="spacing" font-size="10.5" fill="#33ccff" font-family="Liberation Sans, sans-serif" >Ssed_R0107</text>
<line x1="507.5" y1="380.3" x2="457.5" y2="396.2" stroke="#33ccff" stroke-width="1.0"/>
<text transform="translate(524,394.3) scale(0.84,1)" x="0" y="0" textLength="66.67" lengthAdjust="spacing" font-size="10.5" fill="#33ccff" font-family="Liberation Sans, sans-serif" >Ssed_R0106</text>
<line x1="522" y1="395.3" x2="463.3" y2="403" stroke="#33ccff" stroke-width="1.0"/>
<text transform="translate(537.3,410) scale(0.84,1)" x="0" y="0" textLength="67.50" lengthAdjust="spacing" font-size="10.5" fill="#33ccff" font-family="Liberation Sans, sans-serif" >Ssed_R0105</text>
<line x1="537.5" y1="411.3" x2="471.7" y2="411.7" stroke="#33ccff" stroke-width="1.0"/>
<text x="398.4" y="256" textLength="18" lengthAdjust="spacing" font-size="10.5" fill="#0000ff" font-family="Liberation Sans, sans-serif" >gltX</text>
<line x1="396.4" y1="254.4" x2="387" y2="317" stroke="#0000ff" stroke-width="1.3"/>
<text x="150.3" y="34.2" textLength="19.717099999999995" lengthAdjust="spacing" font-size="8.6" fill="#222222" font-family="Liberation Sans, sans-serif" >3522</text>
<text x="173.0331" y="34.2" textLength="14.966899999999995" lengthAdjust="spacing" font-size="8.6" fill="#222222" font-family="Liberation Sans, sans-serif" >kbp</text>
<text x="210" y="110" textLength="19.874000000000002" lengthAdjust="spacing" font-size="8.6" fill="#222222" font-family="Liberation Sans, sans-serif" >3520</text>
<text x="232.914" y="110" textLength="15.086" lengthAdjust="spacing" font-size="8.6" fill="#222222" font-family="Liberation Sans, sans-serif" >kbp</text>
<text x="271.4" y="186" textLength="19.664800000000014" lengthAdjust="spacing" font-size="8.6" fill="#222222" font-family="Liberation Sans, sans-serif" >3518</text>
<text x="294.0728" y="186" textLength="14.92720000000001" lengthAdjust="spacing" font-size="8.6" fill="#222222" font-family="Liberation Sans, sans-serif" >kbp</text>
<text x="334.5" y="260" textLength="19.507900000000006" lengthAdjust="spacing" font-size="8.6" fill="#222222" font-family="Liberation Sans, sans-serif" >3516</text>
<text x="356.9919" y="260" textLength="14.808100000000005" lengthAdjust="spacing" font-size="8.6" fill="#222222" font-family="Liberation Sans, sans-serif" >kbp</text>
<text x="398.5" y="333.8" textLength="19.6125" lengthAdjust="spacing" font-size="8.6" fill="#222222" font-family="Liberation Sans, sans-serif" >3514</text>
<text x="421.1125" y="333.8" textLength="14.887500000000001" lengthAdjust="spacing" font-size="8.6" fill="#222222" font-family="Liberation Sans, sans-serif" >kbp</text>
<text x="463.3" y="405.8" textLength="19.6125" lengthAdjust="spacing" font-size="8.6" fill="#222222" font-family="Liberation Sans, sans-serif" >3512</text>
<text x="485.9125" y="405.8" textLength="14.887500000000001" lengthAdjust="spacing" font-size="8.6" fill="#222222" font-family="Liberation Sans, sans-serif" >kbp</text>
<text x="529.5" y="476.5" textLength="19.507899999999978" lengthAdjust="spacing" font-size="8.6" fill="#222222" font-family="Liberation Sans, sans-serif" >3510</text>
<text x="551.9919" y="476.5" textLength="14.808099999999982" lengthAdjust="spacing" font-size="8.6" fill="#222222" font-family="Liberation Sans, sans-serif" >kbp</text>
<rect x="122" y="5" width="354" height="25.3" fill="#ffffff" fill-opacity="0.77"/>
<rect x="122" y="5" width="354" height="25.3" fill="#ffffff" fill-opacity="0.77"/>
<text transform="translate(127.5,22.6) scale(0.88,1)" x="0" y="0" textLength="85.23" lengthAdjust="spacing" font-size="14.5" fill="#141414" font-family="Liberation Sans, sans-serif" font-style="italic">Shewanella</text>
<text transform="translate(209.4,22.6) scale(0.88,1)" x="0" y="0" textLength="70.57" lengthAdjust="spacing" font-size="14.5" fill="#141414" font-family="Liberation Sans, sans-serif" font-style="italic">sediminis</text>
<text transform="translate(276.3,22.6) scale(0.88,1)" x="0" y="0" textLength="77.16" lengthAdjust="spacing" font-size="14.5" fill="#141414" font-family="Liberation Sans, sans-serif" font-style="italic">HAW-EB3,</text>
<text transform="translate(349.8,22.6) scale(0.88,1)" x="0" y="0" textLength="70.45" lengthAdjust="spacing" font-size="14.5" fill="#141414" font-family="Liberation Sans, sans-serif" font-style="italic">complete</text>
<text transform="translate(417,22.6) scale(0.88,1)" x="0" y="0" textLength="61.70" lengthAdjust="spacing" font-size="14.5" fill="#141414" font-family="Liberation Sans, sans-serif" font-style="italic">genome</text>
<rect x="257.5" y="571" width="337.5" height="23.8" fill="#ffffff" fill-opacity="0.77"/>
<text transform="translate(262.5,587.8) scale(0.88,1)" x="0" y="0" textLength="62.39" lengthAdjust="spacing" font-size="14.5" fill="#141414" font-family="Liberation Sans, sans-serif" >Topology:</text>
<text transform="translate(323.4,587.8) scale(0.88,1)" x="0" y="0" textLength="50.11" lengthAdjust="spacing" font-size="14.5" fill="#141414" font-family="Liberation Sans, sans-serif" >circular;</text>
<text transform="translate(373,587.8) scale(0.88,1)" x="0" y="0" textLength="45.45" lengthAdjust="spacing" font-size="14.5" fill="#141414" font-family="Liberation Sans, sans-serif" >Length:</text>
<text transform="translate(418.6,587.8) scale(0.88,1)" x="0" y="0" textLength="71.59" lengthAdjust="spacing" font-size="14.5" fill="#141414" font-family="Liberation Sans, sans-serif" >5,517,674</text>
<text transform="translate(487,587.8) scale(0.88,1)" x="0" y="0" textLength="20.45" lengthAdjust="spacing" font-size="14.5" fill="#141414" font-family="Liberation Sans, sans-serif" >bp;</text>
<text transform="translate(511.6,587.8) scale(0.88,1)" x="0" y="0" textLength="42.95" lengthAdjust="spacing" font-size="14.5" fill="#141414" font-family="Liberation Sans, sans-serif" >Genes:</text>
<text transform="translate(555.4,587.8) scale(0.88,1)" x="0" y="0" textLength="38.18" lengthAdjust="spacing" font-size="14.5" fill="#141414" font-family="Liberation Sans, sans-serif" >4,661</text>
<text transform="translate(9.3,587.3) scale(0.88,1)" x="0" y="0" textLength="66.70" lengthAdjust="spacing" font-size="14.2" fill="#141414" font-family="Liberation Sans, sans-serif" >Accession:</text>
<text transform="translate(73.3,587.3) scale(0.88,1)" x="0" y="0" textLength="79.77" lengthAdjust="spacing" font-size="14.2" fill="#141414" font-family="Liberation Sans, sans-serif" >NC_009831</text>
</svg></body></html>
